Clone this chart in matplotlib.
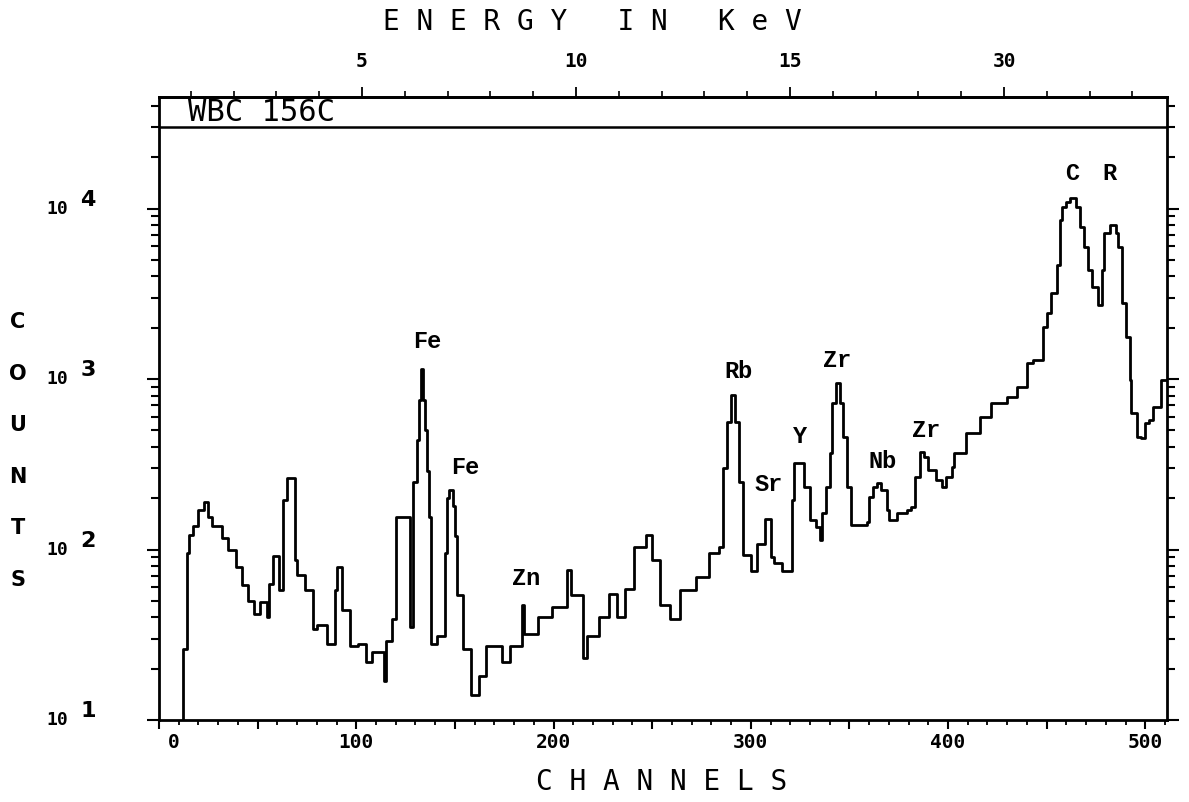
import numpy as np
import matplotlib
matplotlib.use('Agg')
import matplotlib.pyplot as plt
import matplotlib.transforms as mtransforms
from matplotlib.ticker import FixedLocator, LogLocator, NullFormatter

# spectrum: channel where a step starts, counts on that step
channels = [11, 12, 14, 15, 17, 20, 23, 25, 27, 32, 35, 39, 42, 45, 48, 51, 55, 56, 58, 61,
            63, 65, 69, 70, 74, 78, 80, 85, 89, 90, 93, 97, 101, 105, 108, 114, 115, 118, 120, 127,
            129, 131, 132, 133, 134, 135, 136, 137, 138, 141, 145, 146, 147, 149, 150, 151, 154, 158, 162, 166,
            174, 178, 184, 185, 192, 199, 207, 209, 215, 217, 223, 228, 232, 236, 241, 247, 250, 254, 259, 264,
            272, 279, 284, 286, 288, 290, 292, 294, 296, 300, 303, 307, 310, 312, 316, 321, 322, 327, 330, 333,
            335, 336, 338, 340, 341, 343, 345, 347, 349, 351, 359, 360, 362, 364, 366, 369, 370, 374, 379, 381,
            383, 386, 388, 390, 394, 397, 399, 402, 403, 409, 416, 422, 430, 435, 440, 443, 448, 450, 452, 455,
            457, 458, 460, 462, 465, 467, 469, 471, 473, 476, 478, 479, 482, 485, 486, 488, 490, 492, 493, 496,
            498, 500, 502, 504, 507, 508, 510]
counts = [1, 26, 95, 122, 138, 170, 190, 155, 138, 117, 100, 79, 62, 50, 42, 49, 40, 63, 91, 58,
          196, 262, 87, 71, 58, 34, 36, 28, 58, 79, 44, 27, 28, 22, 25, 17, 29, 39, 155, 35,
          250, 440, 750, 1150, 750, 500, 290, 155, 28, 31, 95, 200, 223, 180, 120, 54, 26, 14, 18, 27,
          22, 27, 47, 32, 40, 46, 76, 54, 23, 31, 40, 55, 40, 59, 103, 122, 87, 47, 39, 58,
          69, 95, 103, 300, 560, 805, 560, 250, 93, 75, 108, 150, 90, 83, 75, 195, 321, 233, 149, 135,
          114, 164, 233, 368, 723, 948, 723, 457, 233, 139, 145, 203, 233, 245, 223, 170, 149, 164, 170, 177,
          266, 373, 347, 293, 256, 233, 266, 305, 368, 482, 598, 723, 784, 897, 1240, 1290, 2020, 2440, 3190, 4670,
          8560, 10200, 10900, 11500, 10200, 7790, 5940, 4350, 3460, 2720, 4350, 7180, 8000, 7200, 5940, 2790, 1760, 986, 632, 457,
          450, 552, 575, 685, 685, 986, 986]

peak_names = ['Fe', 'Fe', 'Zn', 'Rb', 'Sr', 'Y', 'Zr', 'Nb', 'Zr', 'C', 'R']
peak_label_ch = [136, 155, 186, 294, 309, 325, 344, 367, 389, 463, 482]
peak_label_counts = [1650, 301, 68, 1100, 242, 463, 1290, 326, 502, 16100, 16100]

x_ticks = [0, 50, 100, 150, 200, 250, 300, 350, 400, 450, 500]
x_ticklabels = ['0', '', '100', '', '200', '', '300', '', '400', '', '500']
kev_ticks = [5, 10, 15, 20]
kev_ticklabels = ['5', '10', '15', '30']
y_exponents = [1, 2, 3, 4]

W, H = 1189, 802
fig = plt.figure(figsize=(W / 100, H / 100), dpi=100)
ax_l, ax_r, ax_t, ax_b = 159, 1167, 97, 720
ax = fig.add_axes([ax_l / W, 1 - ax_b / H, (ax_r - ax_l) / W, (ax_b - ax_t) / H])

ax.plot(channels, counts, drawstyle='steps-post', color='black', lw=2)
ax.set_yscale('log')
ax.set_xlim(0, 511)
ax.set_ylim(10, 10 ** (1 + (ax_b - ax_t) / 170.5))

for s in ax.spines.values():
    s.set_linewidth(2)

# title band at the top of the frame
band = (ax_b - 127) / (ax_b - ax_t)
ax.plot([0, 1], [band, band], transform=ax.transAxes, color='black', lw=1.8)
ax.text((188 - ax_l) / (ax_r - ax_l), (ax_b - 112) / (ax_b - ax_t), 'WBC 156C',
        transform=ax.transAxes, ha='left', va='center', fontsize=22,
        family='DejaVu Sans Mono', color='black')

# bottom axis
ax.set_xticks(x_ticks, labels=x_ticklabels)
ax.xaxis.set_minor_locator(FixedLocator(np.arange(10, 511, 10)))
ax.tick_params(axis='x', which='major', direction='out', length=6.5, width=1.5, pad=3)
ax.tick_params(axis='x', which='minor', direction='out', length=3.6, width=1.3)
for lab in ax.get_xticklabels():
    lab.set_fontfamily('DejaVu Sans Mono')
    lab.set_fontweight('bold')
    lab.set_fontsize(14)
zero_lab = ax.get_xticklabels()[0]
zero_lab.set_transform(zero_lab.get_transform() +
                       mtransforms.ScaledTranslation(0.15, 0, fig.dpi_scale_trans))

# log y axis, ticks on both sides, labels drawn by hand
ax.yaxis.set_major_locator(LogLocator(base=10, numticks=10))
ax.yaxis.set_minor_locator(LogLocator(base=10, subs=np.arange(2, 10), numticks=10))
ax.yaxis.set_major_formatter(NullFormatter())
ax.yaxis.set_minor_formatter(NullFormatter())
ax.tick_params(axis='y', which='both', left=True, right=True, direction='out', width=1.5)
ax.tick_params(axis='y', which='major', length=8.5)
ax.tick_params(axis='y', which='minor', length=5.5)
ytr = ax.get_yaxis_transform()
for e in y_exponents:
    ax.text((57 - ax_l) / (ax_r - ax_l), 10 ** e, '10', transform=ytr, ha='center', va='center',
            fontsize=13, fontweight='bold', family='DejaVu Sans Mono')
    ax.text((88 - ax_l) / (ax_r - ax_l), 10 ** (e + 0.05), str(e), transform=ytr, ha='center',
            va='center', fontsize=16, fontweight='bold', family='DejaVu Sans')

# energy axis on top
def ch2kev(c):
    return (np.asarray(c) + 5.6) / 21.7

def kev2ch(k):
    return np.asarray(k) * 21.7 - 5.6

sec = ax.secondary_xaxis('top', functions=(ch2kev, kev2ch))
sec.set_xticks(kev_ticks, labels=kev_ticklabels)
sec.xaxis.set_minor_locator(FixedLocator(np.arange(1, 24)))
sec.tick_params(axis='x', which='major', direction='out', length=7, width=1.3, pad=12)
sec.tick_params(axis='x', which='minor', direction='out', length=4, width=1.2)
for lab in sec.get_xticklabels():
    lab.set_fontfamily('DejaVu Sans Mono')
    lab.set_fontweight('bold')
    lab.set_fontsize(14)
sec.spines['top'].set_linewidth(2)

# peak names
for name, c, y in zip(peak_names, peak_label_ch, peak_label_counts):
    ax.text(c, y, name, ha='center', va='center', fontsize=17, fontweight='bold',
            family='Liberation Mono', color='black')

# axis titles
fig.text(592 / W, 1 - 22 / H, 'E N E R G Y   I N   K e V', ha='center', va='center',
         fontsize=20, family='DejaVu Sans Mono')
fig.text(662 / W, 1 - 782 / H, 'C H A N N E L S', ha='center', va='center',
         fontsize=20, family='DejaVu Sans Mono')
for i, ch in enumerate('COUNTS'):
    fig.text(18 / W, 1 - (322 + i * 51.6) / H, ch, ha='center', va='center',
             fontsize=15, fontweight='bold', family='DejaVu Sans')

fig.savefig('out.png', dpi=100)
